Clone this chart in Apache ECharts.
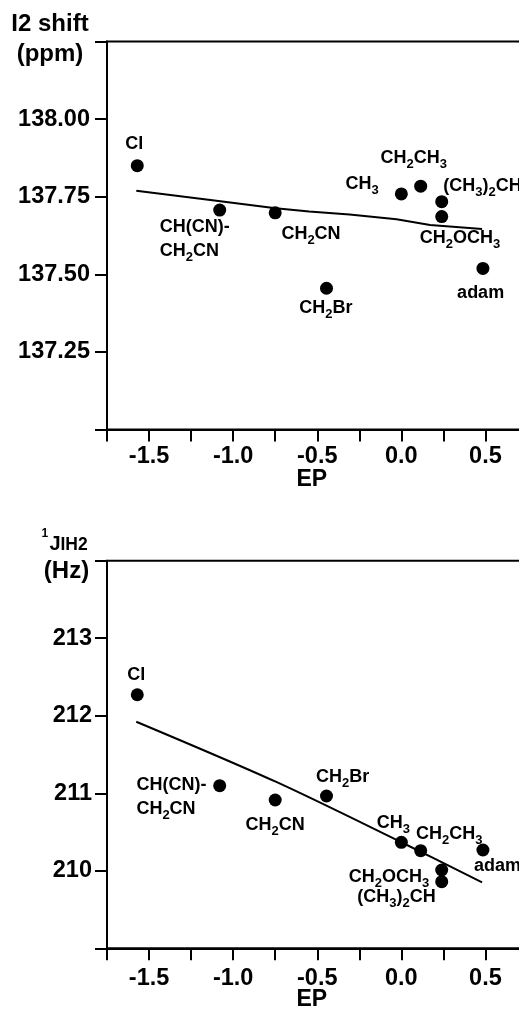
<!DOCTYPE html>
<html>
<head>
<meta charset="utf-8">
<script src="https://cdn.jsdelivr.net/npm/echarts@6/dist/echarts.min.js"></script>
<style>
  html, body { margin: 0; padding: 0; background: #fff; }
  #chart { width: 519px; height: 1009px; }
</style>
</head>
<body>
<div id="chart"></div>
<script>
// substituents and their EP values (shared by both panels)
const substituents = ['Cl', 'CH(CN)-\nCH2CN', 'CH2CN', 'CH2Br', 'CH3', 'CH2CH3', '(CH3)2CH', 'CH2OCH3', 'adam'];
const epValues = [-1.57, -1.08, -0.75, -0.445, 0.0, 0.115, 0.24, 0.24, 0.485];

// top panel: I2 shift (ppm)
const i2Shift = [137.850, 137.707, 137.698, 137.455, 137.759, 137.784, 137.734, 137.686, 137.519];
const shiftFitEP = [-1.576, -1.147, -0.747, -0.548, -0.308, -0.029, 0.171, 0.480];
const shiftFit = [137.769, 137.740, 137.713, 137.702, 137.693, 137.677, 137.659, 137.646];

// bottom panel: 1J(IH2) (Hz)
const jIH2 = [212.271, 211.098, 210.913, 210.965, 210.367, 210.259, 209.859, 210.010, 210.268];
const couplingFitEP = [-1.576, -0.747, -0.003, 0.480];
const couplingFit = [211.923, 211.149, 210.371, 209.851];

// tick labels
const epTickLabels = ['-1.5', '-1.0', '-0.5', '0.0', '0.5'];
const shiftTickLabels = ['137.25', '137.50', '137.75', '138.00'];
const couplingTickLabels = ['210', '211', '212', '213'];

// label placement per point: [align, dx, dy] from the dot centre
const shiftLabelPlace = [
  ['center', -3, -19], ['left', -60, 31.7], ['center', 35.8, 24.3], ['center', -0.7, 23.1],
  ['right', -22.7, -6.6], ['center', -7, -25.6], ['left', 1.6, -13], ['center', 18.3, 24.7],
  ['center', -2.3, 27.2]
];
const couplingLabelPlace = [
  ['center', -1, -17], ['left', -83.3, 14.3], ['center', 0, 28], ['left', -10.6, -16.3],
  ['center', -8, -16.6], ['left', -4.7, -13.7], ['right', -6, 18], ['right', -12.4, 9.7],
  ['left', -9, 19]
];

const FONT = "'Liberation Sans', Arial, Helvetica, sans-serif";

// digits become subscripts
function chem(name) {
  return name.split('\n').map(line =>
    line.replace(/(\D+)|(\d+)/g, (m, a, d) => a ? '{m|' + a + '}' : '{s|' + d + '}')
  ).join('\n');
}

const chemRich = {
  m: { fontSize: 18, fontWeight: 'bold', fontFamily: FONT, color: '#000', lineHeight: 24, verticalAlign: 'top' },
  s: { fontSize: 13, fontWeight: 'bold', fontFamily: FONT, color: '#000', lineHeight: 24, verticalAlign: 'top', padding: [9, 0, 0, 0] }
};

function pointData(ys, place) {
  return substituents.map((name, i) => ({
    name: name,
    value: [epValues[i], ys[i]],
    label: { align: place[i][0], offset: [place[i][1], place[i][2]] }
  }));
}

const tickFont = { color: '#000', fontSize: 23.5, fontWeight: 'bold', fontFamily: FONT };

function epAxis(gridIndex, labelMargin, nameGap) {
  return {
    type: 'value', gridIndex: gridIndex,
    min: -1.75, max: 0.75, interval: 0.25,
    splitLine: { show: false },
    axisLine: { show: true, onZero: false, lineStyle: { color: '#000', width: 2 } },
    axisTick: { show: true, inside: false, length: 12, lineStyle: { color: '#000', width: 2 } },
    axisLabel: Object.assign({
      margin: labelMargin, hideOverlap: false,
      formatter: v => {
        const s = v.toFixed(1);
        return epTickLabels.includes(s) ? s : '';
      }
    }, tickFont),
    name: 'EP', nameLocation: 'middle', nameGap: nameGap, nameMoveOverlap: false,
    nameTextStyle: { color: '#000', fontSize: 23, fontWeight: 'bold', fontFamily: FONT, padding: [0, 11, 0, 0] }
  };
}

function valAxis(gridIndex, min, max, interval, digits, labels, labelMargin) {
  return {
    type: 'value', gridIndex: gridIndex,
    min: min, max: max, interval: interval,
    splitLine: { show: false },
    axisLine: { show: true, onZero: false, lineStyle: { color: '#000', width: 2 } },
    axisTick: { show: true, inside: false, length: 12, lineStyle: { color: '#000', width: 2 } },
    axisLabel: Object.assign({
      margin: labelMargin, hideOverlap: false,
      formatter: v => {
        const s = v.toFixed(digits);
        return labels.includes(s) ? s : '';
      }
    }, tickFont)
  };
}

function titleText(text, x, y, size, align) {
  return {
    type: 'text', x: x, y: y,
    style: {
      text: text, fontSize: size, fontWeight: 'bold', fontFamily: FONT, fill: '#000',
      align: align, verticalAlign: 'middle', textAlign: align, textVerticalAlign: 'middle'
    }
  };
}

const chart = echarts.init(document.getElementById('chart'), null, { renderer: 'canvas' });

chart.setOption({
  animation: false,
  backgroundColor: '#fff',
  grid: [
    { left: 107, right: -8.5, top: 41.5, height: 388, show: true, borderColor: '#000', borderWidth: 2,
      backgroundColor: 'transparent', containLabel: false, outerBoundsMode: 'none' },
    { left: 107, right: -8.5, top: 560.7, height: 387.6, show: true, borderColor: '#000', borderWidth: 2,
      backgroundColor: 'transparent', containLabel: false, outerBoundsMode: 'none' }
  ],
  xAxis: [epAxis(0, 15, 39), epAxis(1, 18, 40)],
  yAxis: [
    valAxis(0, 137, 138.25, 0.25, 2, shiftTickLabels, 17),
    valAxis(1, 209, 214, 1, 0, couplingTickLabels, 15)
  ],
  graphic: [
    titleText('I2 shift', 50, 24.5, 24, 'center'),
    titleText('(ppm)', 50, 54.5, 24, 'center'),
    // 1J with IH2 index
    titleText('1', 41.5, 534, 12, 'left'),
    titleText('J', 49.5, 544.4, 20, 'left'),
    titleText('IH2', 60.5, 545.4, 17.5, 'left'),
    titleText('(Hz)', 66.5, 571.2, 24, 'center')
  ],
  series: [
    {
      type: 'line', xAxisIndex: 0, yAxisIndex: 0,
      data: shiftFitEP.map((x, i) => [x, shiftFit[i]]),
      symbol: 'none', smooth: false,
      lineStyle: { color: '#000', width: 2 }
    },
    {
      type: 'line', xAxisIndex: 1, yAxisIndex: 1,
      data: couplingFitEP.map((x, i) => [x, couplingFit[i]]),
      symbol: 'none', smooth: 0.3,
      lineStyle: { color: '#000', width: 2 }
    },
    {
      type: 'scatter', xAxisIndex: 0, yAxisIndex: 0,
      data: pointData(i2Shift, shiftLabelPlace),
      symbol: 'circle', symbolSize: 13,
      itemStyle: { color: '#000', opacity: 1 },
      label: {
        show: true, position: ['50%', '50%'], verticalAlign: 'middle', opacity: 1,
        formatter: p => chem(p.name), rich: chemRich, color: '#000'
      }
    },
    {
      type: 'scatter', xAxisIndex: 1, yAxisIndex: 1,
      data: pointData(jIH2, couplingLabelPlace),
      symbol: 'circle', symbolSize: 13,
      itemStyle: { color: '#000', opacity: 1 },
      label: {
        show: true, position: ['50%', '50%'], verticalAlign: 'middle', opacity: 1,
        formatter: p => chem(p.name), rich: chemRich, color: '#000'
      }
    }
  ]
});
</script>
</body>
</html>
